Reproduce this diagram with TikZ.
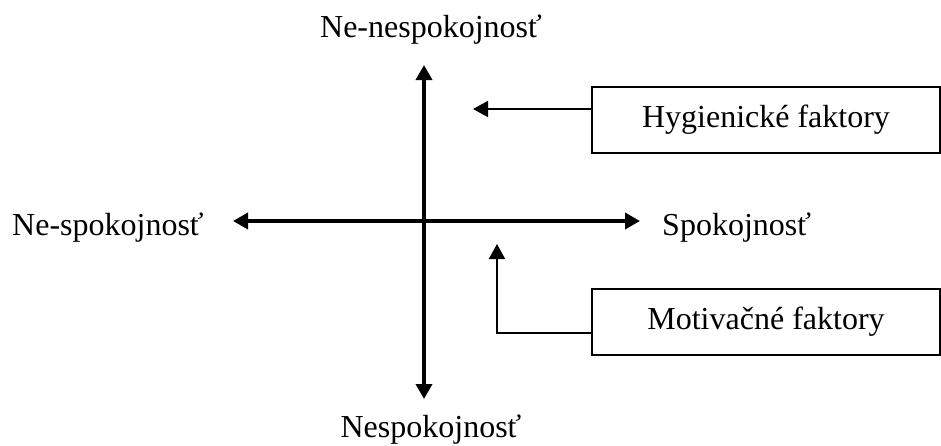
\documentclass[tikz,border=0pt]{standalone}
\usepackage{fontspec}
\setmainfont{Liberation Serif}
\usetikzlibrary{arrows.meta}
\begin{document}
\begin{tikzpicture}[x=1pt,y=1pt,
  axis/.style={line width=3.5pt, {Triangle[width=16pt,length=15pt]}-{Triangle[width=16pt,length=15pt]}},
  pointer/.style={line width=1.8pt, -{Triangle[width=16pt,length=15pt]}},
  fbox/.style={draw, line width=2pt, minimum width=348pt, minimum height=66pt, inner sep=0pt, font=\fontsize{32}{38}\selectfont},
  lbl/.style={inner sep=0pt, font=\fontsize{32}{38}\selectfont}]
\useasboundingbox (0,0) rectangle (941,-445);
% axes
\coordinate (L) at (233,-221);
\coordinate (R) at (640,-221);
\coordinate (T) at (424,-65);
\coordinate (B) at (424,-399);
\draw[axis] (L) -- (R);
\draw[axis] (T) -- (B);
% labels
\node[lbl, anchor=base] (top) at (431,-37) {Ne-nespokojnosť};
\node[lbl, anchor=base] (bot) at (431,-437) {Nespokojnosť};
\node[lbl, anchor=base west] (left) at (12,-235) {Ne-spokojnosť};
\node[lbl, anchor=base west] (right) at (662,-235) {Spokojnosť};
% boxes
\node[fbox] (hyg) at (766,-120) {Hygienické faktory};
\node[fbox] (mot) at (766,-321.5) {Motivačné faktory};
% pointers
\coordinate (htip) at (473,-109);
\coordinate (mtip) at (497,-244);
\coordinate (mcorner) at (497,-333);
\draw[pointer] (hyg.west |- htip) -- (htip);
\draw[pointer] (mot.west |- mcorner) -- (mcorner) -- (mtip);
\end{tikzpicture}
\end{document}
